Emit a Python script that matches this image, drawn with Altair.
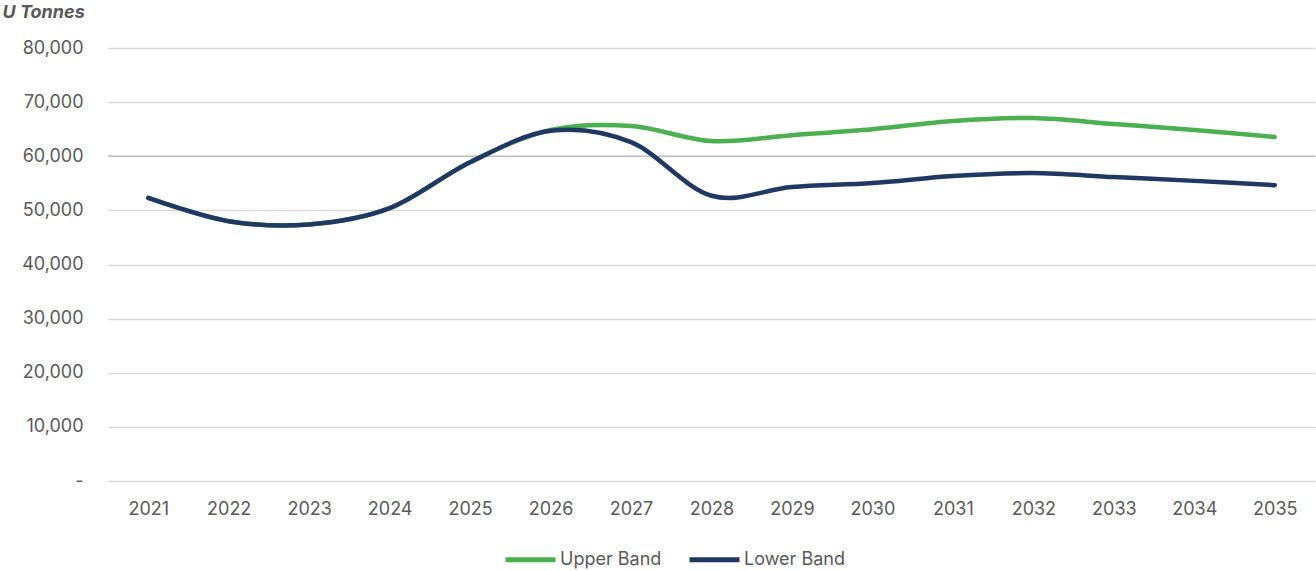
import altair as alt
import pandas as pd

years = [str(y) for y in range(2021, 2036)]
upper = [52300, 48000, 47400, 50400, 58900, 64850, 65600, 62800, 63900, 65000, 66500, 67050, 65950, 64850, 63550]
lower = [52300, 48000, 47400, 50400, 58900, 64700, 62600, 52700, 54300, 55050, 56350, 56900, 56150, 55450, 54650]
series = ["Upper Band", "Lower Band"]
colors = ["#4CAF50", "#1F3864"]
y_ticks = [0, 10000, 20000, 30000, 40000, 50000, 60000, 70000, 80000]
highlight = [60000]

rows = []
for i, yr in enumerate(years):
    rows.append({"year": yr, "series": series[0], "value": upper[i]})
for i, yr in enumerate(years):
    rows.append({"year": yr, "series": series[1], "value": lower[i]})
df = pd.DataFrame(rows)

FONT = "Inter"
TXT = "#595959"

x_enc = alt.X("year:O", scale=alt.Scale(type="point", padding=0.5),
              axis=alt.Axis(title=None, labelAngle=0, domain=False, ticks=False, grid=False,
                            labelPadding=19, labelFontSize=18, labelColor=TXT, labelFont=FONT))

lines = alt.Chart(df).mark_line(interpolate="cardinal", strokeWidth=4.5, strokeCap="round").encode(
    x=x_enc,
    y=alt.Y("value:Q", scale=alt.Scale(domain=[0, 80000], nice=False),
            axis=alt.Axis(values=y_ticks, title="U Tonnes", titleAngle=0, titleX=-106, titleY=-36,
                          titleAlign="left", titleBaseline="middle", titleFont=FONT, titleFontSize=18,
                          titleFontWeight="bold", titleFontStyle="italic", titleColor=TXT,
                          labelExpr="datum.value == 0 ? '-\u00a0\u00a0' : format(datum.value, ',')",
                          labelPadding=25, labelFontSize=18, labelColor=TXT, labelFont=FONT,
                          domain=False, ticks=False, grid=True, gridColor="#D9D9D9", gridWidth=1.3)),
    color=alt.Color("series:N", scale=alt.Scale(domain=series, range=colors),
                    legend=alt.Legend(title=None, orient="none", legendX=395, legendY=484,
                                      direction="horizontal", symbolType="stroke", symbolSize=2500,
                                      symbolStrokeWidth=5, labelFontSize=18, labelColor=TXT, labelFont=FONT,
                                      labelOffset=2, columnPadding=17, padding=0)),
)

hl = alt.Chart(pd.DataFrame({"v": highlight})).mark_rule(color="#BFBFBF", strokeWidth=1.3).encode(
    y=alt.Y("v:Q", scale=alt.Scale(domain=[0, 80000], nice=False))
)

chart = alt.layer(hl, lines).properties(
    width=1207, height=433,
    background="white",
    autosize=alt.AutoSizeParams(type="none"),
    padding={"left": 108, "top": 48, "right": 1, "bottom": 90},
).configure_view(stroke=None)

chart.save("out.html", embed_options={"renderer": "svg", "actions": False})
